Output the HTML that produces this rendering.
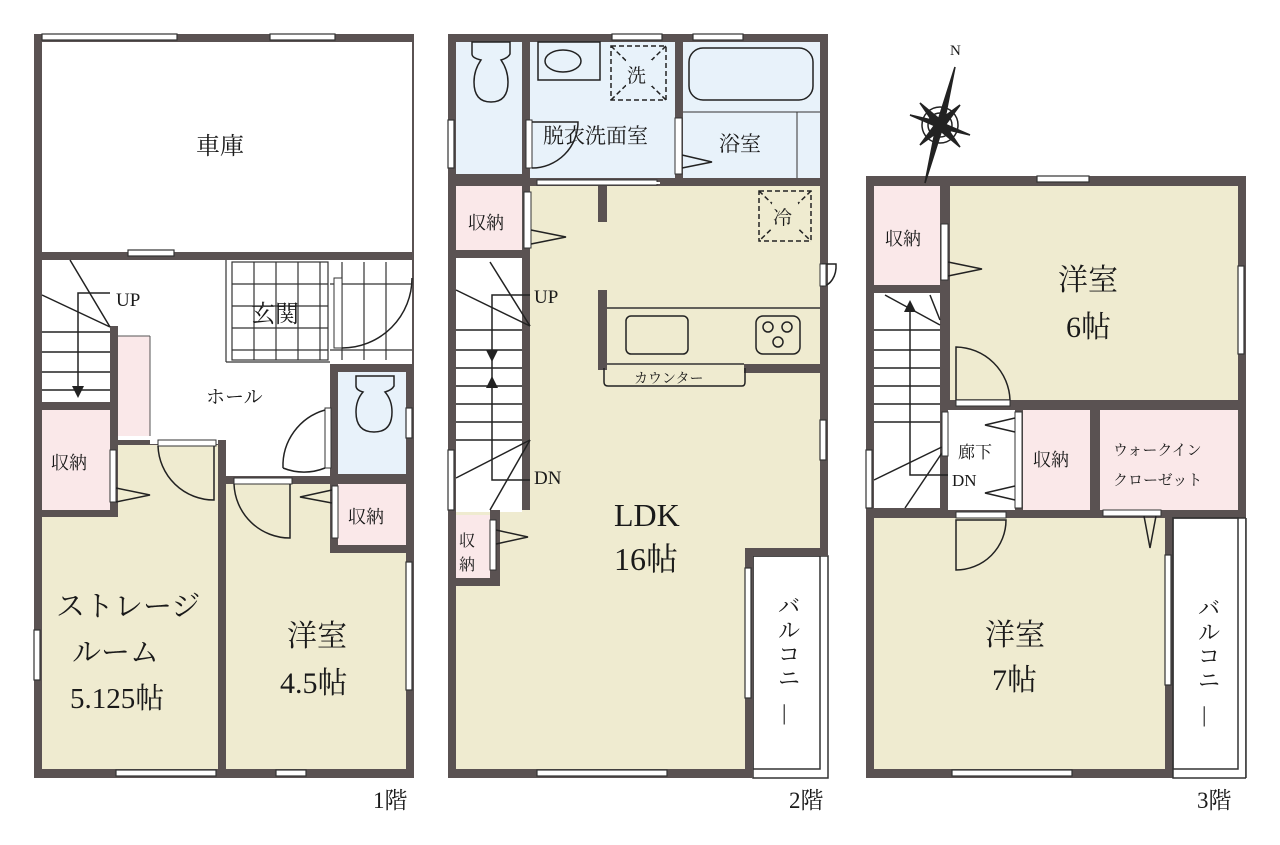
<!DOCTYPE html>
<html><head><meta charset="utf-8"><style>
body{margin:0;background:#fff}
svg{display:block}
text{font-family:"Liberation Serif","Noto Serif CJK JP",serif;fill:#1a1a1a}
</style></head><body>
<svg width="1280" height="845" viewBox="0 0 1280 845" xmlns="http://www.w3.org/2000/svg">
<defs>
<style>
.w{fill:#5a5252}.b{fill:#efebd0}.p{fill:#fae8e9}.c{fill:#e8f2fa}.wh{fill:#fff}
.ln{stroke:#222;stroke-width:1.5;fill:none}
.win{fill:#fff;stroke:#333;stroke-width:1.2}
</style>
</defs>

<!-- ============ FLOOR 1 ============ -->
<rect class="w" x="34" y="34" width="380" height="744"/>
<rect class="wh" x="42" y="42" width="370" height="210"/>
<rect class="wh" x="42" y="260" width="68" height="142"/>
<rect class="wh" x="118" y="260" width="212" height="180"/>
<rect class="wh" x="150" y="436" width="68" height="8"/>
<rect class="wh" x="226" y="362" width="104" height="114"/>
<rect class="wh" x="330" y="260" width="82" height="104"/>
<rect class="wh" x="110" y="260" width="8" height="66"/>
<rect class="p" x="118" y="336" width="32" height="100"/>
<line x1="118" y1="336" x2="150" y2="336" stroke="#555"/><line x1="150" y1="336" x2="150" y2="436" stroke="#555"/>
<rect class="c" x="338" y="372" width="68" height="102"/>
<rect class="p" x="42" y="410" width="68" height="100"/>
<rect class="p" x="338" y="484" width="68" height="61"/>
<rect class="b" x="118" y="445" width="100" height="80"/>
<rect class="b" x="42" y="517" width="176" height="252"/>
<rect class="b" x="226" y="484" width="104" height="70"/>
<rect class="b" x="226" y="553" width="180" height="216"/>
<g stroke="#333" stroke-width="1.2">
<rect x="232" y="262" width="96" height="98" fill="none"/>
<line x1="254" y1="262" x2="254" y2="360"/><line x1="276" y1="262" x2="276" y2="360"/><line x1="298" y1="262" x2="298" y2="360"/><line x1="320" y1="262" x2="320" y2="360"/>
<line x1="232" y1="284" x2="328" y2="284"/><line x1="232" y1="306" x2="328" y2="306"/><line x1="232" y1="328" x2="328" y2="328"/><line x1="232" y1="350" x2="328" y2="350"/>
<line x1="226" y1="362" x2="330" y2="362"/><line x1="226" y1="260" x2="226" y2="362"/>
<line x1="342" y1="262" x2="342" y2="360"/><line x1="364" y1="262" x2="364" y2="360"/><line x1="386" y1="262" x2="386" y2="360"/>
<line x1="330" y1="284" x2="412" y2="284"/><line x1="330" y1="350" x2="412" y2="350"/>
</g>
<rect x="334" y="278" width="8" height="70" fill="#fff" stroke="#333"/>
<path d="M342 348 A70 70 0 0 0 412 278" class="ln" fill="#fff"/>
<g class="ln">
<line x1="42" y1="332" x2="110" y2="332"/><line x1="42" y1="352" x2="110" y2="352"/><line x1="42" y1="372" x2="110" y2="372"/><line x1="42" y1="390" x2="110" y2="390"/>
<line x1="42" y1="295" x2="110" y2="327"/><line x1="70" y1="260" x2="110" y2="327"/>
<polyline points="110,293 78,293 78,395"/>
</g>
<polygon points="72,386 84,386 78,398" fill="#222"/>
<rect x="158" y="440" width="58" height="6" fill="#fff" stroke="#333"/>
<path d="M158 446 A56 56 0 0 0 214 500 L214 446" class="ln" fill="#fff"/>
<rect x="234" y="478" width="58" height="6" fill="#fff" stroke="#333"/>
<path d="M234 484 A56 56 0 0 0 290 538 L290 484" fill="#fff" class="ln"/>
<rect x="325" y="408" width="6" height="60" fill="#fff" stroke="#333"/>
<path d="M325 468 A56 56 0 0 1 283 468 M325 410 A58 58 0 0 0 283 468" class="ln"/>
<rect x="110" y="450" width="6" height="52" fill="#fff" stroke="#333"/>
<path d="M116 488 L150 495 L116 502" class="ln" fill="#fff"/>
<rect x="332" y="486" width="6" height="52" fill="#fff" stroke="#333"/>
<path d="M332 490 L300 497 L332 503" class="ln" fill="#fff"/>
<path d="M356 376 L394 376 L394 386 Q392 390 385 392 Q392 400 392 412 Q392 432 374 432 Q356 432 356 412 Q356 400 363 392 Q356 390 356 386 Z" class="ln" fill="#fff"/>
<rect class="win" x="42" y="34" width="135" height="6"/><rect class="win" x="270" y="34" width="65" height="6"/>
<rect class="win" x="128" y="250" width="46" height="6"/>
<rect class="win" x="34" y="630" width="6" height="50"/>
<rect class="win" x="406" y="562" width="6" height="128"/>
<rect class="win" x="406" y="408" width="6" height="30"/>
<rect class="win" x="116" y="770" width="100" height="6"/><rect class="win" x="276" y="770" width="30" height="6"/>

<!-- ============ FLOOR 2 ============ -->
<rect class="w" x="448" y="34" width="380" height="744"/>
<rect class="c" x="456" y="42" width="66" height="132"/>
<rect class="c" x="530" y="42" width="145" height="136"/>
<rect class="c" x="683" y="42" width="137" height="136"/>
<rect class="p" x="456" y="186" width="66" height="64"/>
<rect class="b" x="530" y="186" width="290" height="362"/>
<rect class="b" x="530" y="540" width="215" height="229"/>
<rect class="b" x="456" y="510" width="76" height="259"/>
<rect class="wh" x="456" y="258" width="66" height="254"/>
<rect class="p" x="456" y="515" width="34" height="63"/>
<rect class="w" x="490" y="510" width="10" height="76"/>
<rect class="w" x="448" y="578" width="52" height="8"/>
<rect class="b" x="456" y="586" width="76" height="183"/>
<rect class="wh" x="753" y="556" width="75" height="222"/>
<rect x="753" y="556" width="75" height="222" fill="none" stroke="#333" stroke-width="1.5"/>
<rect x="753" y="556" width="67" height="213" fill="none" stroke="#333" stroke-width="1.5"/>
<rect class="w" x="745" y="548" width="8" height="230"/>
<rect class="w" x="745" y="548" width="83" height="8"/>
<rect class="w" x="598" y="186" width="9" height="36"/>
<rect class="w" x="598" y="290" width="9" height="80"/>
<line x1="607" y1="308" x2="820" y2="308" stroke="#333" stroke-width="1.5"/>
<rect class="w" x="744" y="364" width="76" height="9"/>
<line x1="607" y1="364" x2="744" y2="364" stroke="#333" stroke-width="1.5"/>
<path d="M604 368 L604 382 Q604 386 608 386 L742 386 Q745 386 745 382 L745 368" class="ln"/>
<rect x="626" y="316" width="62" height="38" rx="5" class="ln" fill="#efebd0"/>
<rect x="756" y="316" width="44" height="38" rx="7" class="ln"/>
<circle cx="768" cy="327" r="5" class="ln"/><circle cx="787" cy="327" r="5" class="ln"/><circle cx="778" cy="342" r="5" class="ln"/>
<rect x="689" y="48" width="124" height="52" rx="14" class="ln"/>
<line x1="683" y1="112" x2="820" y2="112" stroke="#333"/><line x1="797" y1="112" x2="797" y2="178" stroke="#333"/>
<rect x="538" y="42" width="62" height="38" class="ln"/>
<ellipse cx="563" cy="61" rx="18" ry="11" class="ln"/>
<g stroke="#222" stroke-width="1.5" stroke-dasharray="5 3" fill="none">
<rect x="611" y="46" width="55" height="54"/><line x1="611" y1="46" x2="666" y2="100"/><line x1="666" y1="46" x2="611" y2="100"/>
<rect x="759" y="191" width="52" height="50"/><line x1="759" y1="191" x2="811" y2="241"/><line x1="811" y1="191" x2="759" y2="241"/>
</g>
<rect x="626" y="60" width="26" height="26" fill="#e8f2fa"/><rect x="772" y="203" width="26" height="26" fill="#efebd0"/>
<path d="M472 42 L510 42 L510 54 Q508 58 501 60 Q508 70 508 82 Q508 102 491 102 Q474 102 474 82 Q474 70 481 60 Q472 58 472 54 Z" class="ln" fill="#fff"/>
<g class="ln">
<line x1="456" y1="330" x2="522" y2="330"/><line x1="456" y1="350" x2="522" y2="350"/><line x1="456" y1="368" x2="522" y2="368"/><line x1="456" y1="386" x2="522" y2="386"/><line x1="456" y1="404" x2="522" y2="404"/><line x1="456" y1="422" x2="522" y2="422"/><line x1="456" y1="440" x2="522" y2="440"/>
<line x1="456" y1="290" x2="530" y2="326"/><line x1="490" y1="262" x2="530" y2="326"/>
<polyline points="530,295 492,295 492,480 530,480"/>
<line x1="456" y1="478" x2="530" y2="440"/><line x1="490" y1="510" x2="530" y2="440"/>
</g>
<polygon points="486,350 498,350 492,362" fill="#222"/><polygon points="486,388 498,388 492,376" fill="#222"/>
<rect x="526" y="120" width="6" height="48" fill="#fff" stroke="#333"/>
<path d="M532 168 A46 46 0 0 0 578 122 L532 122" class="ln" fill="#fff"/>
<rect x="675" y="118" width="7" height="56" fill="#fff" stroke="#333"/>
<path d="M682 155 L712 162 L682 168" class="ln" fill="#fff"/>
<rect x="524" y="192" width="7" height="56" fill="#fff" stroke="#333"/>
<path d="M531 230 L566 237 L531 244" class="ln" fill="#fff"/>
<rect x="490" y="520" width="6" height="50" fill="#fff" stroke="#333"/>
<path d="M496 530 L528 537 L496 544" class="ln" fill="#fff"/>
<rect x="537" y="180" width="120" height="5" fill="#fff" stroke="#333"/>
<line x1="600" y1="183" x2="660" y2="183" stroke="#fff" stroke-dasharray="6 5" stroke-width="2"/>
<path d="M822 264 L836 264 A14 20 0 0 1 822 286" class="ln" fill="#fff"/>
<rect x="820" y="264" width="6" height="22" fill="#fff" stroke="#333"/>
<rect class="win" x="612" y="34" width="50" height="6"/><rect class="win" x="693" y="34" width="50" height="6"/>
<rect class="win" x="448" y="120" width="6" height="48"/>
<rect class="win" x="448" y="450" width="6" height="60"/>
<rect class="win" x="820" y="420" width="6" height="40"/>
<rect class="win" x="745" y="568" width="6" height="130"/>
<rect class="win" x="537" y="770" width="130" height="6"/>

<!-- ============ FLOOR 3 ============ -->
<rect class="w" x="866" y="176" width="380" height="602"/>
<rect class="p" x="874" y="186" width="66" height="99"/>
<rect class="wh" x="874" y="293" width="66" height="215"/>
<rect class="b" x="950" y="186" width="288" height="214"/>
<rect class="wh" x="948" y="410" width="67" height="100"/>
<rect class="p" x="1023" y="410" width="67" height="100"/>
<rect class="p" x="1100" y="410" width="138" height="100"/>
<rect class="b" x="874" y="518" width="291" height="251"/>
<rect class="wh" x="1173" y="518" width="73" height="260"/>
<rect x="1173" y="518" width="73" height="260" fill="none" stroke="#333" stroke-width="1.5"/>
<rect x="1173" y="518" width="65" height="251" fill="none" stroke="#333" stroke-width="1.5"/>
<rect class="wh" x="1246" y="510" width="6" height="270"/>
<line x1="1246" y1="518" x2="1246" y2="778" stroke="#333" stroke-width="1.5"/>
<g class="ln">
<line x1="874" y1="330" x2="940" y2="330"/><line x1="874" y1="350" x2="940" y2="350"/><line x1="874" y1="368" x2="940" y2="368"/><line x1="874" y1="386" x2="940" y2="386"/><line x1="874" y1="404" x2="940" y2="404"/><line x1="874" y1="422" x2="940" y2="422"/>
<line x1="885" y1="295" x2="940" y2="325"/><line x1="930" y1="295" x2="940" y2="320"/>
<polyline points="910,302 910,475 948,475"/>
<line x1="874" y1="480" x2="948" y2="444"/><line x1="905" y1="508" x2="948" y2="444"/>
</g>
<polygon points="904,312 916,312 910,300" fill="#222"/>
<rect x="941" y="224" width="7" height="56" fill="#fff" stroke="#333"/>
<path d="M948 262 L982 269 L948 276" class="ln" fill="#fff"/>
<path d="M956 400 L956 347 A55 55 0 0 1 1010 400 Z" class="ln" fill="#fff"/>
<rect x="956" y="400" width="54" height="6" fill="#fff" stroke="#333"/>
<path d="M956 520 L956 570 A50 50 0 0 0 1006 520 Z" class="ln" fill="#fff"/>
<rect x="956" y="512" width="50" height="6" fill="#fff" stroke="#333"/>
<rect x="942" y="412" width="6" height="44" fill="#fff" stroke="#333"/>
<rect x="1015" y="412" width="7" height="96" fill="#fff" stroke="#333"/>
<path d="M1015 418 L985 425 L1015 432" class="ln" fill="#fff"/>
<path d="M1015 486 L985 493 L1015 500" class="ln" fill="#fff"/>
<rect x="1103" y="510" width="58" height="6" fill="#fff" stroke="#333"/>
<path d="M1144 516 L1150 548 L1156 516" class="ln" fill="#fff"/>
<rect class="win" x="1037" y="176" width="52" height="6"/>
<rect class="win" x="1238" y="266" width="6" height="88"/>
<rect class="win" x="866" y="450" width="6" height="58"/>
<rect class="win" x="1165" y="555" width="6" height="130"/>
<rect class="win" x="952" y="770" width="120" height="6"/>
<g transform="translate(940 125)" stroke="#222" stroke-width="1.5">
<circle r="18" fill="none"/><circle r="12" fill="none"/>
<polygon points="15,-58 4,-2 -4,2" fill="#222"/>
<polygon points="-15,58 -4,2 4,-2" fill="#222"/>
<polygon points="-30,-10 0,-3 0,3" fill="#222"/><polygon points="30,10 0,3 0,-3" fill="#222"/>
<polygon points="-20,-22 3,-3 -3,3" fill="#222"/><polygon points="20,22 -3,3 3,-3" fill="#222"/>
<polygon points="20,-20 -3,-3 3,3" fill="#222"/><polygon points="-20,20 3,3 -3,-3" fill="#222"/>
</g>
<text x="950" y="55" font-size="15">N</text>

<g font-size="22">
<text x="196" y="154" font-size="24">車庫</text>
<text x="251" y="322" font-size="24">玄関</text>
<text x="206" y="403" font-size="19">ホール</text>
<text x="116" y="306" font-size="19">UP</text>
<text x="51" y="469" font-size="18">収納</text>
<text x="348" y="523" font-size="18">収納</text>
<text x="56" y="616" font-size="29">ストレージ</text>
<text x="72" y="662" font-size="29">ルーム</text>
<text x="70" y="708" font-size="29">5.125帖</text>
<text x="287" y="646" font-size="30">洋室</text>
<text x="280" y="693" font-size="30">4.5帖</text>
<text x="373" y="808" font-size="23">1階</text>

<text x="543" y="143" font-size="21">脱衣洗面室</text>
<text x="719" y="151" font-size="21">浴室</text>
<text x="627" y="82" font-size="19">洗</text>
<text x="773" y="224" font-size="19">冷</text>
<text x="468" y="229" font-size="18">収納</text>
<text x="534" y="303" font-size="19">UP</text>
<text x="534" y="484" font-size="19">DN</text>
<text x="634" y="383" font-size="14">カウンター</text>
<text x="459" y="546" font-size="16">収</text><text x="459" y="570" font-size="16">納</text>
<text x="614" y="526" font-size="32">LDK</text>
<text x="614" y="570" font-size="32">16帖</text>
<text x="789" y="808" font-size="23">2階</text>
<g font-size="22"><text x="778" y="614">バ</text><text x="778" y="638">ル</text><text x="778" y="662">コ</text><text x="778" y="686">ニ</text><text x="782" y="720">|</text></g>

<text x="885" y="245" font-size="18">収納</text>
<text x="1058" y="290" font-size="30">洋室</text>
<text x="1066" y="337" font-size="30">6帖</text>
<text x="958" y="458" font-size="17">廊下</text>
<text x="952" y="486" font-size="17">DN</text>
<text x="1033" y="466" font-size="18">収納</text>
<text x="1113" y="455" font-size="15">ウォークイン</text>
<text x="1113" y="485" font-size="15">クローゼット</text>
<text x="985" y="645" font-size="30">洋室</text>
<text x="992" y="690" font-size="30">7帖</text>
<text x="1197" y="808" font-size="23">3階</text>
<g font-size="22"><text x="1198" y="616">バ</text><text x="1198" y="640">ル</text><text x="1198" y="664">コ</text><text x="1198" y="688">ニ</text><text x="1202" y="722">|</text></g>
</g>
</svg>
</body></html>
